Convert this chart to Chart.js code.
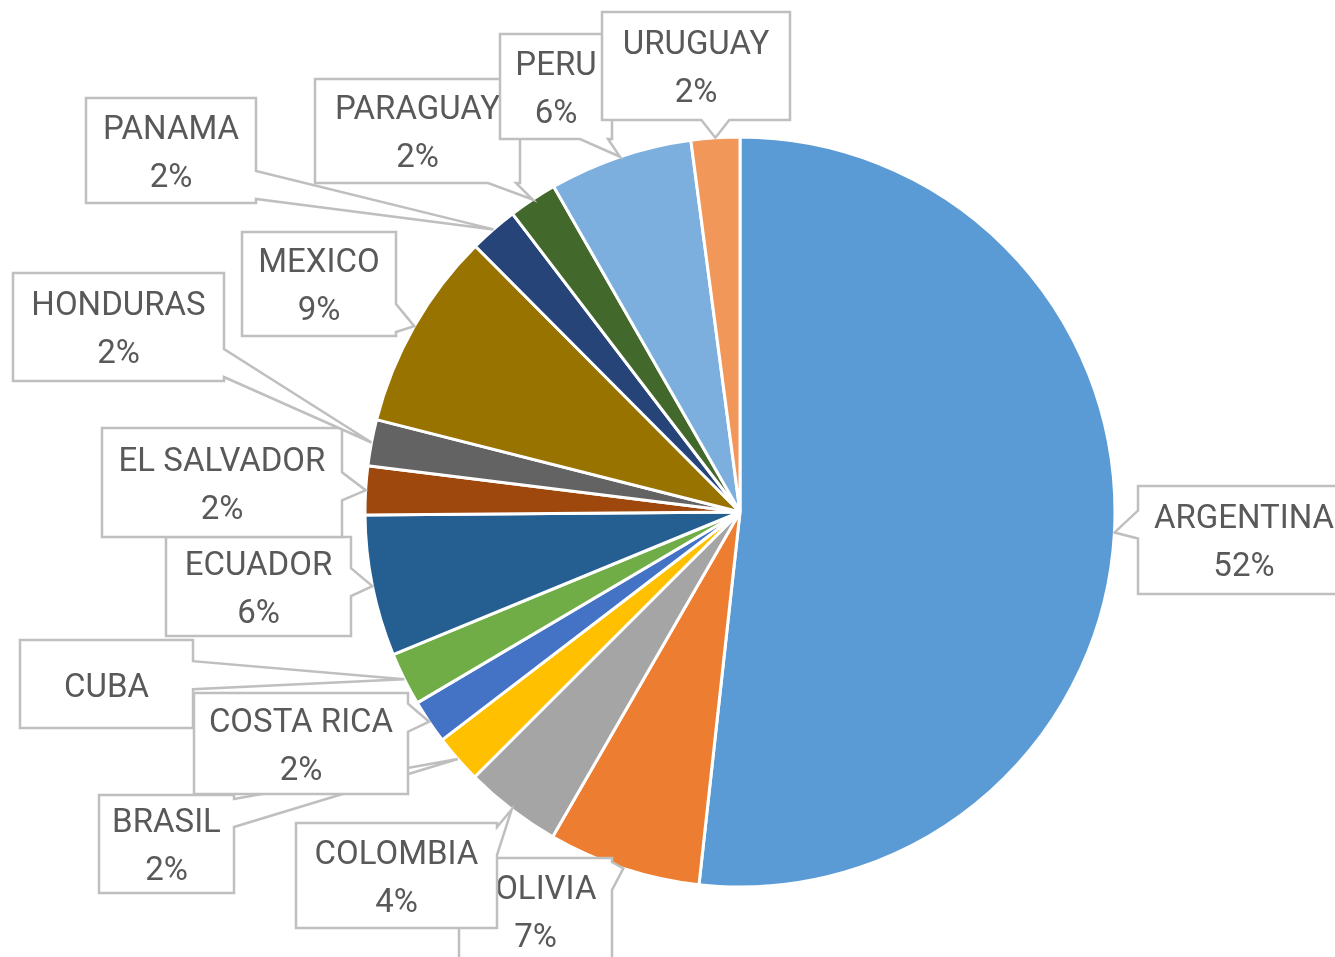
<!DOCTYPE html>
<html>
<head>
<meta charset="utf-8">
<script src="https://cdn.jsdelivr.net/npm/chart.js"></script>
<style>
  html, body { margin: 0; padding: 0; background: #fff; }
  #wrap { width: 1335px; height: 957px; }
</style>
</head>
<body>
<div id="wrap"><canvas id="canvas" width="1335" height="957"></canvas></div>
<script>
// categories, clockwise from 12 o'clock
const countries = ["ARGENTINA", "BOLIVIA", "COLOMBIA", "BRASIL", "COSTA RICA", "CUBA", "ECUADOR",
  "EL SALVADOR", "HONDURAS", "MEXICO", "PANAMA", "PARAGUAY", "PERU", "URUGUAY"];
// share of total (%)
const shares = [51.9, 6.6, 4.2, 2.1, 1.9, 2.3, 6.1, 2.1, 2.0, 8.6, 2.1, 2.1, 6.2, 2.1];

const sliceColors = ["#5B9BD5", "#ED7D31", "#A5A5A5", "#FFC000", "#4472C4", "#70AD47", "#255E91",
  "#9E480E", "#636363", "#997300", "#264478", "#43682B", "#7CAFDD", "#F1975A"];

// callout boxes (x, y, w, h), same order as countries
const labelBoxes = [
  [1138, 486, 212, 108], [459, 858, 153, 105], [296, 823, 201, 105], [99, 795, 135, 98],
  [194, 693, 214, 101], [20, 640, 173, 88], [166, 537, 185, 99], [102, 428, 240, 109],
  [13, 273, 211, 108], [242, 232, 154, 104], [86, 98, 170, 105], [315, 79, 205, 104],
  [500, 34, 112, 105], [602, 12, 188, 108]
];
const hidePercent = ["CUBA"];

const clamp = (v, a, b) => Math.max(a, Math.min(b, v));

function calloutPath(ctx, b, tip) {
  const [x, y, w, h] = b;
  const r = x + w, btm = y + h;
  const dx = Math.max(x - tip.x, tip.x - r, 0);
  const dy = Math.max(y - tip.y, tip.y - btm, 0);
  let side;
  if (dx >= dy) side = tip.x > r ? "right" : "left";
  else side = tip.y > btm ? "bottom" : "top";
  const hw = 14;
  ctx.beginPath();
  ctx.moveTo(x, y);
  if (side === "top") {
    const c = clamp(tip.x, x + 18, r - 18);
    ctx.lineTo(c - hw, y); ctx.lineTo(tip.x, tip.y); ctx.lineTo(c + hw, y);
  }
  ctx.lineTo(r, y);
  if (side === "right") {
    const c = clamp(tip.y - 4, y + 18, btm - 18);
    ctx.lineTo(r, c - hw); ctx.lineTo(tip.x, tip.y); ctx.lineTo(r, c + hw);
  }
  ctx.lineTo(r, btm);
  if (side === "bottom") {
    const c = clamp(tip.x, x + 18, r - 18);
    ctx.lineTo(c + hw, btm); ctx.lineTo(tip.x, tip.y); ctx.lineTo(c - hw, btm);
  }
  ctx.lineTo(x, btm);
  if (side === "left") {
    const c = clamp(tip.y - 8, y + 18, btm - 18);
    ctx.lineTo(x, c + hw); ctx.lineTo(tip.x, tip.y); ctx.lineTo(x, c - hw);
  }
  ctx.closePath();
}

const calloutPlugin = {
  id: "callouts",
  afterDatasetsDraw(chart) {
    const ctx = chart.ctx;
    const meta = chart.getDatasetMeta(0);
    const data = chart.data.datasets[0].data;
    const total = data.reduce((s, v) => s + v, 0);
    ctx.save();
    meta.data.forEach((arc, i) => {
      const p = arc.getProps(["x", "y", "startAngle", "endAngle", "outerRadius"], true);
      const mid = (p.startAngle + p.endAngle) / 2;
      const tip = { x: p.x + Math.cos(mid) * p.outerRadius, y: p.y + Math.sin(mid) * p.outerRadius };
      const b = labelBoxes[i];
      calloutPath(ctx, b, tip);
      ctx.fillStyle = "#ffffff";
      ctx.fill();
      ctx.lineWidth = 2.5;
      ctx.strokeStyle = "#BFBFBF";
      ctx.lineJoin = "miter";
      ctx.stroke();

      const name = chart.data.labels[i];
      const pct = Math.round(data[i] / total * 100) + "%";
      const cx = b[0] + b[2] / 2;
      ctx.fillStyle = "#595959";
      ctx.font = "33px Roboto";
      ctx.textAlign = "center";
      ctx.textBaseline = "alphabetic";
      if (hidePercent.includes(name)) {
        ctx.fillText(name, cx, b[1] + b[3] / 2 + 13);
      } else {
        const base = b[1] + (b[3] - 72) / 2 + 24;
        ctx.fillText(name, cx, base);
        ctx.fillText(pct, cx, base + 48);
      }
    });
    ctx.restore();
  }
};

function draw() {
  new Chart(document.getElementById("canvas"), {
    type: "pie",
    data: {
      labels: countries,
      datasets: [{
        data: shares,
        backgroundColor: sliceColors,
        borderColor: "#ffffff",
        borderWidth: 3,
        hoverOffset: 0
      }]
    },
    options: {
      responsive: false,
      animation: false,
      events: [],
      radius: 375,
      layout: { padding: { left: 145, top: 67, right: 0, bottom: 0 } },
      plugins: {
        legend: { display: false },
        tooltip: { enabled: false }
      }
    },
    plugins: [calloutPlugin]
  });
}

if (document.fonts && document.fonts.load) {
  document.fonts.load("33px Roboto").then(draw, draw);
} else {
  draw();
}
</script>
</body>
</html>
